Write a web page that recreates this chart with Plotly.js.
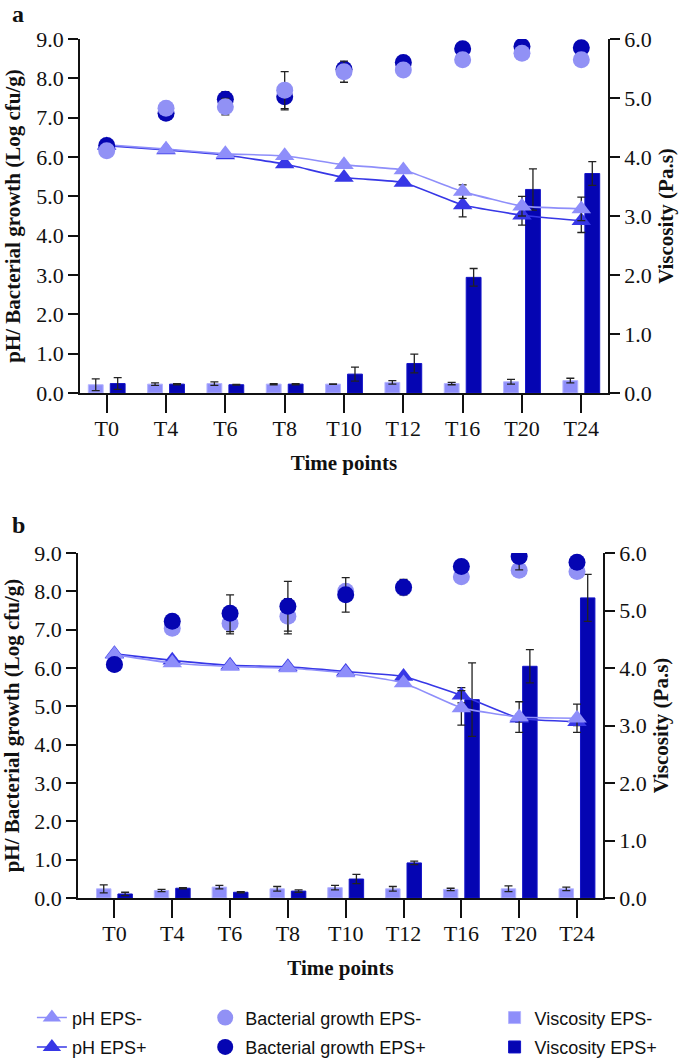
<!DOCTYPE html>
<html>
<head>
<meta charset="utf-8">
<script src="https://cdn.plot.ly/plotly-3.0.1.min.js"></script>
<style>
  html, body { margin: 0; padding: 0; background: #fff; }
  #chart { width: 685px; height: 1058px; }
</style>
</head>
<body>
<div id="chart"></div>
<script>
// time points shared by both panels
const timePoints = ['T0', 'T4', 'T6', 'T8', 'T10', 'T12', 'T16', 'T20', 'T24'];

// panel a
const phMinusA = [6.31, 6.20, 6.08, 6.03, 5.80, 5.67, 5.12, 4.75, 4.68];
const phMinusErrA = [0.03, 0.03, 0.03, 0.03, 0.05, 0.05, 0.17, 0.25, 0.30];
const phPlusA = [6.29, 6.18, 6.05, 5.82, 5.48, 5.35, 4.78, 4.52, 4.38];
const phPlusErrA = [0.03, 0.03, 0.05, 0.05, 0.05, 0.05, 0.30, 0.25, 0.30];
const growthMinusA = [6.16, 7.24, 7.28, 7.70, 8.17, 8.21, 8.47, 8.64, 8.47];
const growthMinusErrA = [0.05, 0.05, 0.21, 0.47, 0.27, 0.05, 0.05, 0.05, 0.05];
const growthPlusA = [6.29, 7.11, 7.47, 7.53, 8.23, 8.40, 8.75, 8.81, 8.78];
const growthPlusErrA = [0.05, 0.05, 0.19, 0.33, 0.15, 0.05, 0.05, 0.05, 0.05];
const viscMinusA = [0.14, 0.15, 0.16, 0.15, 0.15, 0.18, 0.16, 0.19, 0.21];
const viscMinusErrA = [0.10, 0.02, 0.03, 0.01, 0.005, 0.03, 0.02, 0.04, 0.04];
const viscPlusA = [0.16, 0.15, 0.14, 0.15, 0.32, 0.50, 1.96, 3.45, 3.72];
const viscPlusErrA = [0.10, 0.01, 0.005, 0.01, 0.12, 0.16, 0.15, 0.35, 0.20];

// panel b
const phMinusB = [6.35, 6.13, 6.04, 6.00, 5.87, 5.61, 4.96, 4.72, 4.69];
const phMinusErrB = [0.05, 0.05, 0.05, 0.05, 0.05, 0.05, 0.45, 0.40, 0.37];
const phPlusB = [6.37, 6.20, 6.07, 6.03, 5.91, 5.78, 5.29, 4.69, 4.60];
const phPlusErrB = [0.05, 0.05, 0.05, 0.05, 0.05, 0.05, 0.20, 0.10, 0.10];
const growthMinusB = [6.10, 7.04, 7.17, 7.35, 8.00, 8.09, 8.38, 8.55, 8.52];
const growthMinusErrB = [0.05, 0.05, 0.28, 0.46, 0.15, 0.05, 0.08, 0.05, 0.08];
const growthPlusB = [6.09, 7.22, 7.43, 7.61, 7.91, 8.11, 8.65, 8.91, 8.76];
const growthPlusErrB = [0.05, 0.10, 0.48, 0.65, 0.45, 0.20, 0.15, 0.35, 0.17];
const viscMinusB = [0.16, 0.13, 0.19, 0.16, 0.18, 0.16, 0.15, 0.16, 0.16];
const viscMinusErrB = [0.07, 0.02, 0.03, 0.04, 0.04, 0.04, 0.02, 0.05, 0.03];
const viscPlusB = [0.07, 0.17, 0.10, 0.12, 0.33, 0.61, 3.45, 4.03, 5.22];
const viscPlusErrB = [0.03, 0.01, 0.01, 0.02, 0.08, 0.03, 0.64, 0.29, 0.41];

const lightBlue = 'rgb(142,142,250)';
const midBlue = 'rgb(55,55,230)';
const navy = 'rgb(5,5,178)';
const serif = 'Liberation Serif, Times New Roman, serif';

function err(arr) {
    return { type: 'data', array: arr, visible: true, color: '#222', thickness: 1.3, width: 4 };
}

function panel(d, xa, yRight, yLeft, first, darkCirclesOnTop) {
    const bars = [
        {
            type: 'bar', name: 'Viscosity EPS-', x: timePoints, y: d.viscMinus,
            xaxis: xa, yaxis: yRight, width: 0.25, offset: -0.31,
            marker: { color: lightBlue, line: { color: 'rgb(180,180,255)', width: 1 } },
            error_y: err(d.viscMinusErr), legend: 'legend3', legendgroup: 'vm', legendrank: 1, showlegend: first
        },
        {
            type: 'bar', name: 'Viscosity EPS+', x: timePoints, y: d.viscPlus,
            xaxis: xa, yaxis: yRight, width: 0.25, offset: 0.06,
            marker: { color: navy, line: { color: 'rgb(20,20,200)', width: 1 } },
            error_y: err(d.viscPlusErr), legend: 'legend3', legendgroup: 'vp', legendrank: 2, showlegend: first
        }
    ];
    const phPlus = {
        type: 'scatter', mode: 'lines+markers', name: 'pH EPS+', x: timePoints, y: d.phPlus,
        xaxis: xa, yaxis: yLeft,
        line: { color: midBlue, width: 1.6, shape: 'spline', smoothing: 0.4 },
        marker: { symbol: 'triangle-up', size: 17, color: midBlue },
        error_y: err(d.phPlusErr), legend: 'legend', legendgroup: 'pp', legendrank: 2, showlegend: first
    };
    const phMinus = {
        type: 'scatter', mode: 'lines+markers', name: 'pH EPS-', x: timePoints, y: d.phMinus,
        xaxis: xa, yaxis: yLeft,
        line: { color: lightBlue, width: 1.6, shape: 'spline', smoothing: 0.4 },
        marker: { symbol: 'triangle-up', size: 17, color: lightBlue },
        error_y: err(d.phMinusErr), legend: 'legend', legendgroup: 'pm', legendrank: 1, showlegend: first
    };
    const growthMinus = {
        type: 'scatter', mode: 'markers', name: 'Bacterial growth EPS-', x: timePoints, y: d.growthMinus,
        xaxis: xa, yaxis: yLeft,
        marker: { symbol: 'circle', size: 17, color: 'rgb(145,145,245)' },
        error_y: err(d.growthMinusErr), legend: 'legend2', legendgroup: 'gm', legendrank: 1, showlegend: first
    };
    const growthPlus = {
        type: 'scatter', mode: 'markers', name: 'Bacterial growth EPS+', x: timePoints, y: d.growthPlus,
        xaxis: xa, yaxis: yLeft,
        marker: { symbol: 'circle', size: 17, color: navy },
        error_y: err(d.growthPlusErr), legend: 'legend2', legendgroup: 'gp', legendrank: 2, showlegend: first
    };
    const circles = darkCirclesOnTop ? [growthMinus, growthPlus] : [growthPlus, growthMinus];
    return bars.concat([phPlus, phMinus], circles);
}

const traces = panel({
    phMinus: phMinusA, phMinusErr: phMinusErrA, phPlus: phPlusA, phPlusErr: phPlusErrA,
    growthMinus: growthMinusA, growthMinusErr: growthMinusErrA, growthPlus: growthPlusA, growthPlusErr: growthPlusErrA,
    viscMinus: viscMinusA, viscMinusErr: viscMinusErrA, viscPlus: viscPlusA, viscPlusErr: viscPlusErrA
}, 'x', 'y', 'y2', true, false).concat(panel({
    phMinus: phMinusB, phMinusErr: phMinusErrB, phPlus: phPlusB, phPlusErr: phPlusErrB,
    growthMinus: growthMinusB, growthMinusErr: growthMinusErrB, growthPlus: growthPlusB, growthPlusErr: growthPlusErrB,
    viscMinus: viscMinusB, viscMinusErr: viscMinusErrB, viscPlus: viscPlusB, viscPlusErr: viscPlusErrB
}, 'x2', 'y3', 'y4', false, true));

const tickFont = { family: serif, size: 22, color: '#111' };
const titleFont = { family: serif, size: 21, color: '#111', weight: 'bold' };

function xAxis(domain, range, anchor) {
    return {
        domain: domain, anchor: anchor, type: 'category', range: range,
        showline: true, linecolor: '#111', linewidth: 1.6,
        ticks: 'outside', ticklen: 18, tickwidth: 1.6, tickcolor: '#111',
        ticklabelstandoff: -3,
        tickfont: tickFont, showgrid: false, zeroline: false,
        title: { text: 'Time points', font: titleFont, standoff: 15 }
    };
}
function rightAxis(domain, anchor) {
    return {
        domain: domain, anchor: anchor, side: 'right', range: [0, 6], dtick: 1, tickformat: '.1f',
        showline: true, linecolor: '#111', linewidth: 1.6,
        ticks: 'outside', ticklen: 10, tickwidth: 1.6, tickcolor: '#111',
        tickfont: tickFont, showgrid: false, zeroline: false,
        title: { text: 'Viscosity (Pa.s)', font: titleFont, standoff: 8 }
    };
}
function leftAxis(over, anchor) {
    return {
        overlaying: over, anchor: anchor, side: 'left', range: [0, 9], dtick: 1, tickformat: '.1f',
        showline: true, linecolor: '#111', linewidth: 1.6,
        ticks: 'outside', ticklen: 10, tickwidth: 1.6, tickcolor: '#111',
        tickfont: tickFont, showgrid: false, zeroline: false,
        title: { text: 'pH/ Bacterial growth (Log cfu/g)', font: titleFont, standoff: 10 }
    };
}

const legendBase = {
    orientation: 'v', xanchor: 'left', yanchor: 'top', y: -0.118,
    font: { family: 'Liberation Sans, Arial, sans-serif', size: 18, color: '#111' },
    bgcolor: 'rgba(0,0,0,0)', traceorder: 'grouped', tracegroupgap: 3
};

const layout = {
    width: 685, height: 1058,
    margin: { l: 78, r: 77, t: 39, b: 160, autoexpand: false },
    paper_bgcolor: '#fff', plot_bgcolor: '#fff',
    barmode: 'overlay',
    xaxis: xAxis([0.0038, 1], [-0.45, 8.45], 'y'),
    yaxis: rightAxis([0.5879, 1], 'x'),
    yaxis2: leftAxis('y', 'x'),
    xaxis2: xAxis([0, 0.9906], [-0.63, 8.45], 'y3'),
    yaxis3: rightAxis([0, 0.4016], 'x2'),
    yaxis4: leftAxis('y3', 'x2'),
    legend: Object.assign({}, legendBase, { x: -0.087 }),
    legend2: Object.assign({}, legendBase, { x: 0.24 }),
    legend3: Object.assign({}, legendBase, { x: 0.786 }),
    annotations: [
        { text: '<b>a</b>', xref: 'paper', yref: 'paper', x: -0.113, y: 1.029,
          xanchor: 'center', yanchor: 'middle', showarrow: false,
          font: { family: serif, size: 24, color: '#111' } },
        { text: '<b>b</b>', xref: 'paper', yref: 'paper', x: -0.113, y: 0.434,
          xanchor: 'center', yanchor: 'middle', showarrow: false,
          font: { family: serif, size: 24, color: '#111' } }
    ]
};

Plotly.newPlot('chart', traces, layout, { displayModeBar: false, responsive: false });
</script>
</body>
</html>
